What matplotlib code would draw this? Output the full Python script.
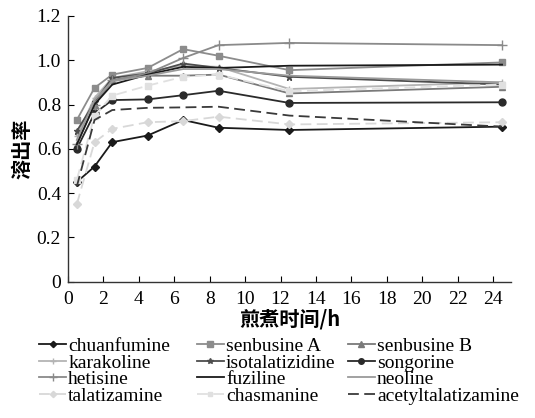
import matplotlib
matplotlib.use("Agg")
import matplotlib.pyplot as plt

plt.rcParams["font.family"] = ["Liberation Serif", "Noto Sans CJK SC"]

# boiling time (h)
times = [0.5, 1.5, 2.5, 4.5, 6.5, 8.5, 12.5, 24.5]

chuanfumine = [0.45, 0.52, 0.63, 0.66, 0.73, 0.695, 0.685, 0.70]
senbusine_a = [0.73, 0.875, 0.935, 0.965, 1.05, 1.02, 0.955, 0.99]
senbusine_b = [0.62, 0.80, 0.91, 0.93, 0.93, 0.935, 0.85, 0.88]
karakoline = [0.66, 0.83, 0.92, 0.95, 0.975, 0.97, 0.87, 0.90]
isotalatizidine = [0.68, 0.81, 0.92, 0.94, 0.985, 0.965, 0.925, 0.89]
songorine = [0.60, 0.76, 0.82, 0.823, 0.842, 0.862, 0.807, 0.81]
hetisine = [0.62, 0.80, 0.91, 0.94, 1.01, 1.068, 1.078, 1.068]
fuziline = [0.62, 0.80, 0.89, 0.935, 0.97, 0.965, 0.975, 0.98]
neoline = [0.64, 0.82, 0.905, 0.93, 0.96, 0.96, 0.93, 0.90]
talatizamine = [0.35, 0.63, 0.69, 0.72, 0.725, 0.745, 0.71, 0.72]
chasmanine = [0.46, 0.75, 0.84, 0.885, 0.925, 0.935, 0.86, 0.89]
acetyltalatizamine = [0.43, 0.73, 0.775, 0.785, 0.787, 0.79, 0.75, 0.70]

series = [
    ("chuanfumine", chuanfumine, "#1a1a1a", "-", "D", 4),
    ("senbusine A", senbusine_a, "#8c8c8c", "-", "s", 5),
    ("senbusine B", senbusine_b, "#7a7a7a", "-", "^", 5),
    ("karakoline", karakoline, "#b4b4b4", "-", "+", 5),
    ("isotalatizidine", isotalatizidine, "#4d4d4d", "-", "*", 5),
    ("songorine", songorine, "#2a2a2a", "-", "o", 5),
    ("hetisine", hetisine, "#8a8a8a", "-", "+", 7),
    ("fuziline", fuziline, "#1a1a1a", "-", None, 0),
    ("neoline", neoline, "#9a9a9a", "-", None, 0),
    ("talatizamine", talatizamine, "#d8d8d8", "--", "D", 4),
    ("chasmanine", chasmanine, "#e0e0e0", "--", "s", 4),
    ("acetyltalatizamine", acetyltalatizamine, "#3a3a3a", "--", None, 0),
]

fig = plt.figure(figsize=(5.35, 4.18), dpi=100)
ax = fig.add_axes([0.127, 0.326, 0.828, 0.636])

handles = []
for name, vals, color, ls, marker, ms in series:
    line, = ax.plot(times, vals, color=color, linestyle=ls, marker=marker,
                    markersize=ms, linewidth=1.3, label=name,
                    dashes=(6, 3) if ls == "--" else (None, None))
    handles.append(line)

ax.set_xlim(0, 25)
ax.set_ylim(0, 1.2)
ax.set_xticks(range(0, 25, 2))
ax.set_yticks([0, 0.2, 0.4, 0.6, 0.8, 1.0, 1.2])
ax.set_yticklabels(["0", "0.2", "0.4", "0.6", "0.8", "1.0", "1.2"])
ax.tick_params(direction="in", length=4, width=0.8, labelsize=14)
ax.tick_params(axis="x", pad=7)
ax.tick_params(axis="y", pad=5)
ax.spines["top"].set_visible(False)
ax.spines["right"].set_visible(False)
for s in ("left", "bottom"):
    ax.spines[s].set_linewidth(1.0)
    ax.spines[s].set_color("#333333")

ax.set_xlabel("煎煮时间/h", fontsize=14.5, fontweight="bold",
              family=["Noto Sans CJK SC", "DejaVu Sans"], labelpad=0)
ax.set_ylabel("溶出率", fontsize=14.5, fontweight="bold",
              family=["Noto Sans CJK SC", "DejaVu Sans"], labelpad=3)

# one legend per column so each column sits where the reference has it
col_x = [0.073, 0.368, 0.650]
for c, x0 in enumerate(col_x):
    idx = list(range(c, len(series), 3))
    fig.legend([handles[i] for i in idx], [series[i][0] for i in idx],
               loc="upper left", bbox_to_anchor=(x0, 0.193),
               frameon=False, fontsize=14, handlelength=1.4,
               handletextpad=0.1, labelspacing=-0.05, borderpad=0,
               borderaxespad=0, markerscale=0.8)

fig.savefig("out.png", dpi=100)
